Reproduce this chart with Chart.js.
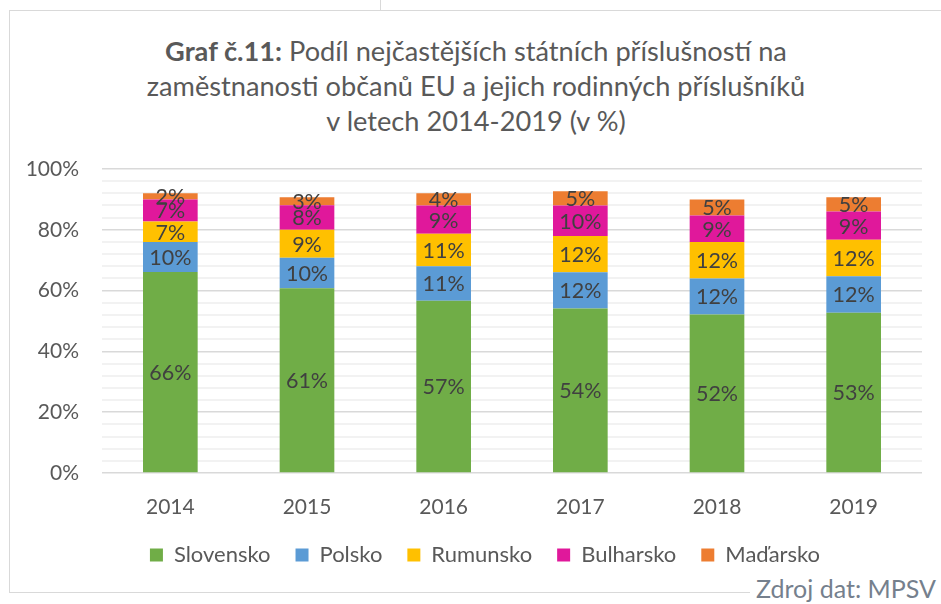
<!DOCTYPE html>
<html>
<head>
<meta charset="utf-8">
<script src="https://cdn.jsdelivr.net/npm/chart.js@4.4.1/dist/chart.umd.min.js"></script>
<style>
  body { margin: 0; background: #fff; width: 941px; height: 604px; overflow: hidden; position: relative; font-family: Lato, sans-serif; }
  #frame { position: absolute; left: 9px; top: 10px; width: 960px; height: 583px; border: 1px solid #d9d9d9; box-sizing: border-box; }
  #notch { position: absolute; left: 380px; top: 0; width: 0; height: 10px; border-left: 1px solid #d9d9d9; }
  #title { position: absolute; left: 0; top: 33px; width: 952px; text-align: center; color: #595959; font-size: 27.2px; line-height: 35px; }
  #title b { font-weight: bold; }
  #source { position: absolute; left: 750px; top: 573px; padding: 0 6px 0 6px; background: #fff; color: #75808d; font-size: 25px; line-height: 30px; white-space: nowrap; }
  canvas { position: absolute; left: 0; top: 0; }
</style>
</head>
<body>
<div id="frame"></div>
<div id="notch"></div>
<div id="title"><b>Graf č.11:</b> Podíl nejčastějších státních příslušností na<br>zaměstnanosti občanů EU a jejich rodinných příslušníků<br>v letech 2014-2019 (v %)</div>
<canvas id="chart" width="941" height="604"></canvas>
<div id="source">Zdroj dat: MPSV</div>
<script>
const years = ['2014', '2015', '2016', '2017', '2018', '2019'];
const slovensko = [66.1, 60.8, 56.7, 54.1, 52.1, 52.7];
const polsko = [9.9, 10.0, 11.3, 11.9, 11.9, 12.0];
const rumunsko = [6.7, 9.2, 10.7, 12.0, 12.0, 12.0];
const bulharsko = [7.3, 8.1, 9.3, 10.0, 8.7, 9.3];
const madarsko = [2.0, 2.6, 4.0, 4.7, 5.3, 4.7];

const seriesNames = ['Slovensko', 'Polsko', 'Rumunsko', 'Bulharsko', 'Maďarsko'];
const seriesColors = ['#70ad47', '#5b9bd5', '#ffc000', '#e0189b', '#ed7d31'];
const seriesData = [slovensko, polsko, rumunsko, bulharsko, madarsko];

// labels in the middle of each segment
const segmentLabels = {
    id: 'segmentLabels',
    afterDatasetsDraw(chart) {
        const ctx = chart.ctx;
        ctx.save();
        ctx.font = '21.5px Lato';
        ctx.fillStyle = '#404040';
        ctx.textAlign = 'center';
        ctx.textBaseline = 'middle';
        chart.data.datasets.forEach((ds, i) => {
            chart.getDatasetMeta(i).data.forEach((bar, j) => {
                const p = bar.getProps(['x', 'y', 'base'], true);
                ctx.fillText(Math.round(ds.data[j]) + '%', p.x, (p.y + p.base) / 2 + 1);
            });
        });
        ctx.restore();
    }
};

// legend in the original sits a bit right of the canvas centre
const legendShift = {
    id: 'legendShift',
    afterLayout(chart) {
        chart.legend.left += 24;
        chart.legend.right += 24;
    }
};

new Chart(document.getElementById('chart'), {
    type: 'bar',
    data: {
        labels: years,
        datasets: seriesNames.map((name, i) => ({
            label: name,
            data: seriesData[i],
            backgroundColor: seriesColors[i],
            borderWidth: 0,
            categoryPercentage: 0.4,
            barPercentage: 1.0
        }))
    },
    options: {
        responsive: false,
        animation: false,
        layout: { padding: { top: 169, right: 19, bottom: 28, left: 0 } },
        plugins: {
            legend: {
                position: 'bottom',
                labels: {
                    boxWidth: 13,
                    boxHeight: 13,
                    padding: 25,
                    color: '#595959',
                    font: { family: 'Lato', size: 22 }
                }
            },
            tooltip: { enabled: false }
        },
        scales: {
            x: {
                stacked: true,
                grid: { display: false },
                border: { display: false },
                ticks: { color: '#595959', font: { family: 'Lato', size: 21 }, padding: 14 },
                afterFit(scale) { scale.height = 46; }
            },
            y: {
                stacked: true,
                min: 0,
                max: 100,
                border: { display: false },
                grid: {
                    drawTicks: false,
                    color: ctx => ctx.tick.value % 20 === 0 ? '#d9d9d9' : '#f2f2f2',
                    lineWidth: ctx => ctx.tick.value % 20 === 0 ? 1.5 : 2
                },
                ticks: {
                    stepSize: 4,
                    autoSkip: false,
                    padding: 23,
                    color: '#595959',
                    font: { family: 'Lato', size: 21 },
                    callback: v => v % 20 === 0 ? v + '%' : ''
                },
                afterFit(scale) { scale.width = 102; }
            }
        }
    },
    plugins: [segmentLabels, legendShift]
});
</script>
</body>
</html>
